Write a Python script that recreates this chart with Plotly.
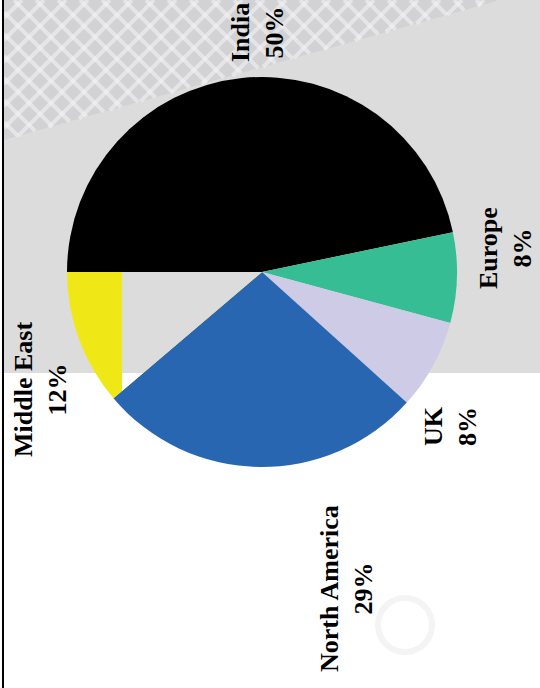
import math
import plotly.graph_objects as go

# ---- data -------------------------------------------------------------
regions = ["India", "Europe", "UK", "North America", "Middle East"]
shares = [50, 8, 8, 29, 12]
slice_colors = ["#000000", "#36bd93", "#cdcbe6", "#2966b1", "#f0e816"]

# ---- page geometry (pixels) ------------------------------------------
W, H = 540, 688
CX, CY, R = 262, 272, 195          # pie centre and radius
START = -90                        # first slice starts at 9 o'clock
BAND = 373                         # lower edge of the grey backdrop
CUT_X = 122                        # backdrop panel laid over the left slice

# label anchor points (centre of the two-line block)
label_pos = {
    "India": (258, 33),
    "Europe": (506, 248),
    "UK": (450, 426),
    "North America": (346, 589),
    "Middle East": (40, 390),
}


def px(x):
    return x / W


def py(y):
    return 1 - y / H


def path(points):
    return "M " + " L ".join(f"{px(x):.5f},{py(y):.5f}" for x, y in points) + " Z"


def clip_poly(poly, inside, cross):
    """Sutherland-Hodgman clip against one half-plane."""
    out = []
    n = len(poly)
    for i in range(n):
        cur, nxt = poly[i], poly[(i + 1) % n]
        if inside(cur):
            out.append(cur)
            if not inside(nxt):
                out.append(cross(cur, nxt))
        elif inside(nxt):
            out.append(cross(cur, nxt))
    return out


def cross_x(xv):
    def f(a, b):
        t = (xv - a[0]) / (b[0] - a[0])
        return (xv, a[1] + t * (b[1] - a[1]))
    return f


def cross_y(yv):
    def f(a, b):
        t = (yv - a[1]) / (b[1] - a[1])
        return (a[0] + t * (b[0] - a[0]), yv)
    return f


def clip_line(p0, d, halfplanes):
    """Clip the line p0 + t*d to the convex region a.p <= b."""
    lo, hi = -1e9, 1e9
    for (ax, ay), b in halfplanes:
        den = ax * d[0] + ay * d[1]
        num = b - (ax * p0[0] + ay * p0[1])
        if abs(den) < 1e-12:
            if num < 0:
                return None
            continue
        t = num / den
        if den > 0:
            hi = min(hi, t)
        else:
            lo = max(lo, t)
    if lo >= hi:
        return None
    return ((p0[0] + lo * d[0], p0[1] + lo * d[1]),
            (p0[0] + hi * d[0], p0[1] + hi * d[1]))


shapes = []

# grey backdrop over the upper part of the page
shapes.append(dict(type="rect", xref="paper", yref="paper", layer="below",
                   x0=px(4), x1=1, y0=py(BAND), y1=1,
                   fillcolor="#dcdcdc", line=dict(width=0)))

# soft cross-hatched texture in the top-left corner
tri = [(4, 0), (500, 0), (4, 140)]
shapes.append(dict(type="path", xref="paper", yref="paper", layer="below",
                   path=path(tri), fillcolor="#cbcbcf", opacity=0.55,
                   line=dict(width=0)))
hp = [((-1, 0), -4), ((0, -1), 0), ((140, 496), 140 * 500)]
for c in range(-520, 200, 22):
    for d in ((1, 1), (1, -1)):
        p0 = (0, c) if d == (1, 1) else (0, c + 520)
        seg = clip_line(p0, d, hp)
        if seg:
            (x0, y0), (x1, y1) = seg
            shapes.append(dict(type="line", xref="paper", yref="paper",
                               layer="below", x0=px(x0), y0=py(y0),
                               x1=px(x1), y1=py(y1),
                               line=dict(color="#f3f3f5", width=4),
                               opacity=0.6))

# faint ring in the lower right
shapes.append(dict(type="circle", xref="paper", yref="paper", layer="below",
                   x0=px(378), x1=px(432), y0=py(652), y1=py(598),
                   line=dict(color="#f4f4f4", width=6)))

# panel laid over the part of the last slice right of CUT_X
total = sum(shares)
a_end = START + 360.0
a_start = START + 360.0 * (total - shares[-1]) / total
wedge = [(CX, CY)]
steps = 60
for i in range(steps + 1):
    a = math.radians(a_start + (a_end - a_start) * i / steps)
    wedge.append((CX + R * math.sin(a), CY - R * math.cos(a)))
cut = clip_poly(wedge, lambda p: p[0] >= CUT_X, cross_x(CUT_X))
upper = clip_poly(cut, lambda p: p[1] <= BAND, cross_y(BAND))
lower = clip_poly(cut, lambda p: p[1] >= BAND, cross_y(BAND))
if lower:
    shapes.append(dict(type="path", xref="paper", yref="paper", layer="above",
                       path=path(lower), fillcolor="#ffffff",
                       line=dict(width=0)))
if upper:
    shapes.append(dict(type="path", xref="paper", yref="paper", layer="above",
                       path=path(upper), fillcolor="#dcdcdc",
                       line=dict(width=0)))

# black rule along the left edge
shapes.append(dict(type="line", xref="paper", yref="paper", layer="above",
                   x0=px(3), x1=px(3), y0=0, y1=1,
                   line=dict(color="#000000", width=2)))

fig = go.Figure(go.Pie(
    labels=regions,
    values=shares,
    sort=False,
    direction="clockwise",
    rotation=START,
    marker=dict(colors=slice_colors, line=dict(width=0)),
    textinfo="none",
    hoverinfo="label+value",
    showlegend=False,
    domain=dict(x=[px(CX - R), px(CX + R)], y=[py(CY + R), py(CY - R)]),
))

annotations = []
for name, val in zip(regions, shares):
    x, y = label_pos[name]
    annotations.append(dict(
        x=px(x), y=py(y), xref="paper", yref="paper",
        text=f"{name}<br>{val}%", showarrow=False, textangle=-90,
        xanchor="center", yanchor="middle", align="center",
        font=dict(family="Liberation Serif", size=26, color="#000000",
                  weight="bold"),
    ))

fig.update_layout(
    width=W, height=H,
    margin=dict(l=0, r=0, t=0, b=0),
    paper_bgcolor="#ffffff",
    plot_bgcolor="#ffffff",
    shapes=shapes,
    annotations=annotations,
)

fig.write_html("out.html")
